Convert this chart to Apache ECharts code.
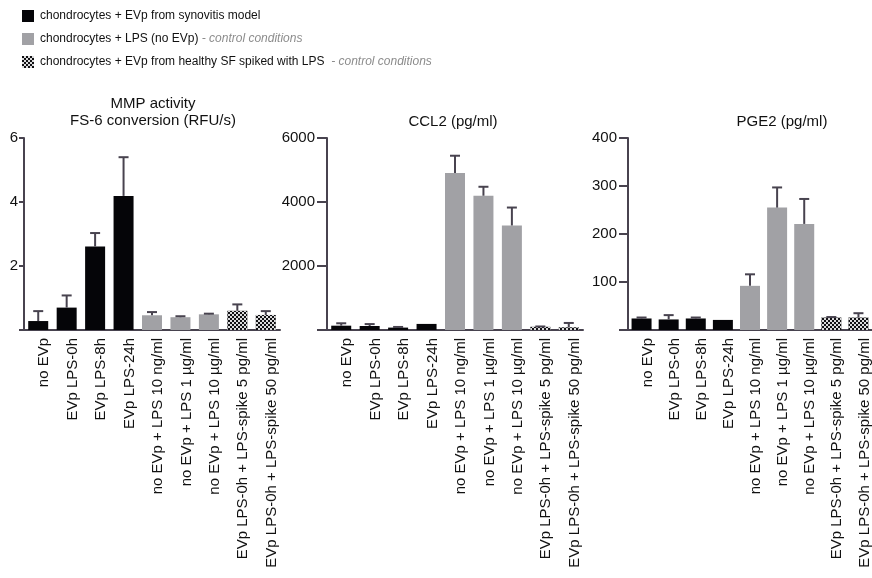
<!DOCTYPE html>
<html>
<head>
<meta charset="utf-8">
<script src="https://cdn.jsdelivr.net/npm/echarts@6/dist/echarts.min.js"></script>
<style>
html,body{margin:0;padding:0;background:#fff;}
#chart{width:872px;height:578px;}
</style>
</head>
<body>
<div id="chart"></div>
<script>
// ---------------- DATA ----------------
const categories = [
  'no EVp', 'EVp LPS-0h', 'EVp LPS-8h', 'EVp LPS-24h',
  'no EVp + LPS 10 ng/ml', 'no EVp + LPS 1 µg/ml', 'no EVp + LPS 10 µg/ml',
  'EVp LPS-0h + LPS-spike 5 pg/ml', 'EVp LPS-0h + LPS-spike 50 pg/ml'
];
const groupNames = [
  'chondrocytes + EVp from synovitis model',
  'chondrocytes + LPS (no EVp)',
  'chondrocytes + EVp from healthy SF spiked with LPS'
];
const groupNotes = ['', ' - control conditions', '  - control conditions'];
const groupOfCategory = [0, 0, 0, 0, 1, 1, 1, 2, 2];

const panelTitles = ['MMP activity\nFS-6 conversion (RFU/s)', 'CCL2 (pg/ml)', 'PGE2 (pg/ml)'];

const mmpMean = [0.28, 0.70, 2.61, 4.19, 0.46, 0.40, 0.49, 0.60, 0.47];
const mmpErr  = [0.31, 0.38, 0.42, 1.21, 0.10, 0.03, 0.02, 0.20, 0.12];
const ccl2Mean = [135, 125, 75, 190, 4906, 4196, 3267, 100, 85];
const ccl2Err  = [75, 60, 20, 0, 540, 280, 560, 10, 135];
const pge2Mean = [24, 22, 24, 21, 92, 255, 221, 26, 26];
const pge2Err  = [2, 9, 2, 0, 24, 42, 52, 1, 9];

const mmpTicks  = [0, 2, 4, 6];
const ccl2Ticks = [0, 2000, 4000, 6000];
const pge2Ticks = [0, 100, 200, 300, 400];

// ---------------- LAYOUT / STYLE ----------------
const panels = [
  { mean: mmpMean, err: mmpErr, ticks: mmpTicks, left: 24, tickLen: 5, labelMargin: 6, title: panelTitles[0], titleX: 153, titleY: 95 },
  { mean: ccl2Mean, err: ccl2Err, ticks: ccl2Ticks, left: 327, tickLen: 10, labelMargin: 12, title: panelTitles[1], titleX: 453, titleY: 113 },
  { mean: pge2Mean, err: pge2Err, ticks: pge2Ticks, left: 628, tickLen: 9, labelMargin: 11, title: panelTitles[2], titleX: 782, titleY: 113 }
];
const FONT = 'Liberation Sans, Arial, Helvetica, sans-serif';
const axisColor = '#48434f';
const groupColors = ['#050508', '#a1a1a5', '#111114'];
const checkerDecal = {
  symbol: 'rect',
  symbolSize: 1,
  color: 'rgba(255,255,255,0.85)',
  dashArrayX: [[2, 2], [0, 2, 2, 0]],
  dashArrayY: [2, 0],
  rotation: 0
};

const grids = [], xAxes = [], yAxes = [], series = [], graphics = [];

panels.forEach((p, pi) => {
  grids.push({ left: p.left, top: 138, width: 256, height: 192, containLabel: false });
  xAxes.push({
    type: 'category', gridIndex: pi, data: categories,
    axisLine: { lineStyle: { color: axisColor, width: 2 } },
    axisTick: { show: false },
    axisLabel: {
      rotate: 90, fontSize: 15, fontFamily: FONT, color: '#111', margin: 8, interval: 0,
      verticalAlign: 'top', lineHeight: 12
    }
  });
  const tmax = p.ticks[p.ticks.length - 1];
  yAxes.push({
    type: 'value', gridIndex: pi, min: p.ticks[0], max: tmax, interval: p.ticks[1] - p.ticks[0],
    splitLine: { show: false },
    axisLine: { show: true, lineStyle: { color: axisColor, width: 2 } },
    axisTick: { show: true, length: p.tickLen, lineStyle: { color: axisColor, width: 2 } },
    axisLabel: {
      fontSize: 15, fontFamily: FONT, color: '#111', margin: p.labelMargin,
      formatter: v => (v === 0 ? '' : String(v))
    }
  });
  groupNames.forEach((gName, gi) => {
    series.push({
      type: 'bar', name: gName, xAxisIndex: pi, yAxisIndex: pi,
      barWidth: 20, barGap: '-100%',
      itemStyle: gi === 2 ? { color: groupColors[gi], decal: checkerDecal } : { color: groupColors[gi] },
      data: p.mean.map((v, i) => (groupOfCategory[i] === gi ? v : '-')),
      z: 2
    });
  });
  series.push({
    type: 'custom', xAxisIndex: pi, yAxisIndex: pi, z: 5, silent: true,
    data: p.mean.map((v, i) => [i, v, p.err[i]]),
    renderItem: function (params, api) {
      const x = api.value(0), m = api.value(1), e = api.value(2);
      if (!e) return null;
      const base = api.coord([x, m]);
      const top = api.coord([x, m + e]);
      const half = 5;
      return {
        type: 'group',
        children: [
          { type: 'line', shape: { x1: base[0], y1: base[1], x2: top[0], y2: top[1] },
            style: { stroke: axisColor, lineWidth: 2 } },
          { type: 'line', shape: { x1: top[0] - half, y1: top[1], x2: top[0] + half, y2: top[1] },
            style: { stroke: axisColor, lineWidth: 2 } }
        ]
      };
    }
  });
  graphics.push({
    type: 'text', x: p.titleX, y: p.titleY,
    style: {
      text: p.title, font: '15px ' + FONT, fill: '#111', textAlign: 'center', lineHeight: 17
    }
  });
});

const chart = echarts.init(document.getElementById('chart'), null, { renderer: 'canvas' });
chart.setOption({
  animation: false,
  backgroundColor: '#fff',
  legend: {
    orient: 'vertical', left: 17, top: 5,
    itemWidth: 12, itemHeight: 12, itemGap: 11,
    icon: 'rect',
    data: groupNames,
    selectedMode: false,
    formatter: name => {
      const gi = groupNames.indexOf(name);
      return groupNotes[gi] ? '{m|' + name + '}{n|' + groupNotes[gi] + '}' : '{m|' + name + '}';
    },
    textStyle: {
      padding: [0, 0, 0, 1],
      rich: {
        m: { fontSize: 12, fontFamily: FONT, color: '#111' },
        n: { fontSize: 12, fontFamily: FONT, color: '#8c8c8c', fontStyle: 'italic' }
      }
    }
  },
  grid: grids,
  xAxis: xAxes,
  yAxis: yAxes,
  series: series,
  graphic: graphics
});
</script>
</body>
</html>
